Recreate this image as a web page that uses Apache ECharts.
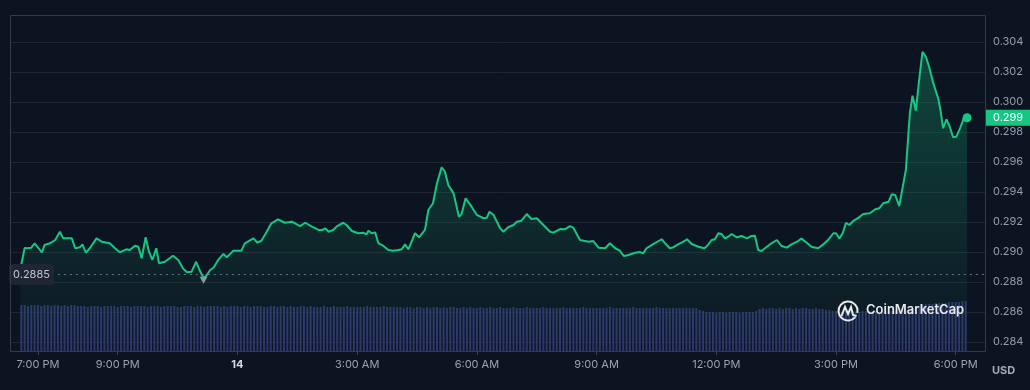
<!DOCTYPE html>
<html><head><meta charset="utf-8">
<script src="https://cdn.jsdelivr.net/npm/echarts@6/dist/echarts.min.js"></script>
<style>html,body{margin:0;padding:0;background:#0d1421;}#c{width:1030px;height:390px;}</style>
</head><body><div id="c"></div>
<script>
// Minutes since 18:00 on the 13th
const times = [
  34,40,44,50,55,66,70,78,86,93,
  98,111,116,123,127,132,138,148,156,168,
  176,183,193,198,206,211,216,222,227,232,
  238,242,251,263,271,278,284,291,298,303,
  309,314,319,324,331,339,344,354,366,371,
  384,390,396,404,411,421,431,442,454,462,
  472,482,488,492,497,504,510,519,524,532,
  542,549,554,557,562,567,572,579,587,594,
  602,607,612,617,627,633,642,647,654,660,
  667,672,677,685,693,697,703,712,720,730,
  735,739,745,755,760,767,775,780,787,795,
  802,810,820,830,835,845,852,860,865,875,
  888,895,903,913,920,928,935,941,948,958,
  965,970,975,985,998,1003,1010,1015,1023,1030,
  1036,1043,1053,1062,1066,1073,1078,1083,1088,1093,
  1098,1103,1111,1118,1126,1133,1138,1143,1148,1156,
  1163,1171,1178,1186,1193,1203,1208,1216,1223,1233,
  1241,1248,1256,1260,1265,1270,1275,1280,1286,1294,
  1301,1311,1319,1325,1331,1339,1344,1349,1355,1359,
  1365,1371,1375,1380,1385,1390,1395,1400,1406,1414,
  1417,1421,1426,1431,1436,1441,1447,1452,1457
];
const prices = [
  0.28893,0.29027,0.29025,0.29029,0.29058,0.28998,0.29047,0.29058,0.29080,0.29135,
  0.29091,0.29091,0.29025,0.29031,0.29051,0.28995,0.29025,0.29091,0.29069,0.29058,
  0.29025,0.28998,0.29018,0.29013,0.29042,0.29035,0.28958,0.29098,0.29002,0.28947,
  0.29025,0.28925,0.28935,0.28975,0.28947,0.28891,0.28865,0.28869,0.28935,0.28880,
  0.28825,0.28847,0.28880,0.28895,0.28947,0.28987,0.28965,0.29009,0.29009,0.29058,
  0.29091,0.29062,0.29075,0.29135,0.29191,0.29218,0.29195,0.29202,0.29173,0.29195,
  0.29169,0.29147,0.29147,0.29158,0.29135,0.29147,0.29173,0.29195,0.29180,0.29140,
  0.29125,0.29129,0.29118,0.29142,0.29125,0.29131,0.29058,0.29042,0.29013,0.29009,
  0.29013,0.29018,0.29051,0.29018,0.29125,0.29098,0.29147,0.29280,0.29325,0.29458,
  0.29565,0.29535,0.29447,0.29391,0.29235,0.29253,0.29358,0.29302,0.29247,0.29225,
  0.29229,0.29269,0.29247,0.29158,0.29135,0.29165,0.29180,0.29202,0.29209,0.29253,
  0.29220,0.29225,0.29180,0.29135,0.29129,0.29153,0.29151,0.29173,0.29162,0.29080,
  0.29069,0.29073,0.29029,0.29025,0.29058,0.29025,0.29009,0.28973,0.28980,0.28995,
  0.29000,0.28991,0.29025,0.29053,0.29085,0.29058,0.29025,0.29031,0.29053,0.29067,
  0.29085,0.29053,0.29035,0.29025,0.29040,0.29080,0.29085,0.29125,0.29120,0.29091,
  0.29102,0.29120,0.29098,0.29107,0.29091,0.29107,0.29109,0.29013,0.29007,0.29035,
  0.29058,0.29080,0.29040,0.29029,0.29051,0.29073,0.29089,0.29062,0.29035,0.29025,
  0.29051,0.29080,0.29125,0.29125,0.29091,0.29125,0.29195,0.29180,0.29207,0.29229,
  0.29253,0.29258,0.29285,0.29291,0.29325,0.29335,0.29385,0.29380,0.29307,0.29402,
  0.29547,0.29925,0.30042,0.29942,0.30147,0.30335,0.30302,0.30235,0.30129,0.30018,
  0.29947,0.29825,0.29885,0.29835,0.29765,0.29769,0.29831,0.29891,0.29895
];
// Volume bars: one every 5 minutes from 18:35 (relative units)
const volumeStart = 35;
const volumeStep = 5;
const volumes = [
  47,47,46,47,47,47,46,47,47,46,47,47,46,47,46,47,47,46,
  46,46,45,46,46,46,45,46,46,46,46,45,
  46,46,46,45,46,46,46,46,45,46,46,46,
  45,46,46,46,46,45,45,46,46,46,45,46,
  46,45,46,46,46,46,45,46,45,46,46,46,
  45,46,46,45,46,46,46,45,45,46,46,45,
  46,46,45,46,45,45,46,46,45,46,45,45,
  45,46,45,45,46,45,45,45,46,45,45,45,
  45,45,46,45,45,45,45,46,45,45,45,45,
  45,44,45,45,44,45,45,44,45,44,45,45,
  44,45,44,45,45,44,44,45,44,45,44,44,
  45,44,44,45,44,44,45,44,44,44,45,44,
  44,44,45,44,44,44,44,45,44,44,44,44,
  44,45,44,44,44,44,44,45,44,44,44,44,
  44,44,44,45,44,44,44,44,44,44,45,44,
  44,44,44,44,44,45,44,44,44,44,44,44,
  44,44,44,44,44,44,
  42,41,40,40,40,39,40,40,39,40,40,40,39,40,40,40,40,41,
  43,44,43,44,44,43,44,43,44,44,43,44,43,44,44,43,43,44,43,43,42,42,
  41,41,41,40,41,41,41,41,40,41,41,41,41,41,40,41,41,41,41,41,41,42,42,42,43,44,
  46,47,48,48,48,49,49,49,49,50,50,50,50,51,51
];
const tickMinutes = [60,180,360,540,720,900,1080,1260,1440];
const tickLabels = ['7:00 PM','9:00 PM','14','3:00 AM','6:00 AM','9:00 AM','12:00 PM','3:00 PM','6:00 PM'];
const openPrice = 0.2885;
const openLabel = '0.2885';
const lastLabel = '0.299';

const FONT = 'Inter, "Noto Sans", sans-serif';
const xMin = 18, xMax = 1484;
const GREEN = '#16c784';
const priceData = times.map((t, i) => [t, prices[i]]);
const volData = volumes.map((v, i) => [volumeStart + i * volumeStep, v]);
const last = priceData[priceData.length - 1];

const chart = echarts.init(document.getElementById('c'));
chart.setOption({
  backgroundColor: '#0d1421',
  animation: false,
  textStyle: { fontFamily: FONT },
  grid: [
    { left: 10, right: 45, top: 42, bottom: 48 },
    { left: 10, right: 45, top: 292, bottom: 38 }
  ],
  xAxis: [
    { type: 'value', gridIndex: 0, min: xMin, max: xMax, show: false },
    { type: 'value', gridIndex: 1, min: xMin, max: xMax,
      axisLine: { show: false }, splitLine: { show: false },
      axisTick: { show: true, customValues: tickMinutes, length: 3, lineStyle: { color: '#3e4452' } },
      axisLabel: {
        customValues: tickMinutes, margin: 7, color: '#9ba2b0', fontSize: 11, fontFamily: FONT,
        formatter: v => {
          const s = tickLabels[tickMinutes.indexOf(v)] || '';
          return /^\d+$/.test(s) ? '{b|' + s + '}' : s;
        },
        rich: { b: { fontWeight: 'bold', color: '#d5d9e1', fontSize: 11, fontFamily: FONT } }
      }
    }
  ],
  yAxis: [
    { type: 'value', gridIndex: 0, position: 'right', min: 0.284, max: 0.304, interval: 0.002,
      axisLine: { show: false }, axisTick: { show: false },
      splitLine: { lineStyle: { color: '#1f2533', width: 1 } },
      axisLabel: { margin: 8, color: '#959cab', fontSize: 11, fontFamily: FONT, formatter: v => v.toFixed(3) }
    },
    { type: 'value', gridIndex: 1, min: 0, max: 60, show: false }
  ],
  series: [
    { type: 'bar', xAxisIndex: 1, yAxisIndex: 1, data: volData, barWidth: 2,
      itemStyle: { color: '#2d366b' }, z: 1, silent: true },
    { type: 'line', xAxisIndex: 0, yAxisIndex: 0, data: priceData, showSymbol: false, z: 3,
      lineStyle: { color: GREEN, width: 2 },
      areaStyle: {
        color: new echarts.graphic.LinearGradient(0, 0, 0, 1, [
          { offset: 0, color: 'rgba(22,199,132,0.40)' },
          { offset: 1, color: 'rgba(22,199,132,0.02)' }
        ])
      },
      markLine: {
        silent: true, symbol: 'none', animation: false,
        data: [
          [
            { coord: last, lineStyle: { color: 'rgba(0,0,0,0)', width: 0 },
              label: { show: true, position: 'end', distance: 0, formatter: lastLabel,
                backgroundColor: GREEN, color: '#ffffff', padding: [3, 8, 2, 8],
                fontSize: 11, fontFamily: FONT } },
            { coord: [xMax, last[1]] }
          ]
        ]
      },
      markPoint: {
        silent: true, animation: false,
        data: [
          { type: 'min', symbol: 'triangle', symbolRotate: 180, symbolSize: [8, 7], symbolOffset: [0, 2],
            itemStyle: { color: '#8e94a2' }, label: { show: false } },
          { coord: last, symbol: 'circle', symbolSize: 9,
            itemStyle: { color: GREEN }, label: { show: false } }
        ]
      }
    },
    { type: 'line', name: 'open', xAxisIndex: 0, yAxisIndex: 0, data: [], z: 8, silent: true,
      markLine: {
        silent: true, symbol: 'none', animation: false,
        data: [
          [
            { coord: [90, openPrice],
              lineStyle: { color: '#6a7080', type: [2, 4], width: 1 },
              label: { show: true, position: 'start', distance: 4, formatter: openLabel,
                backgroundColor: '#1f2533', color: '#c2c7d1', padding: [5, 4, 5, 4],
                borderRadius: 4, fontSize: 11, fontFamily: FONT } },
            { coord: [xMax, openPrice] }
          ]
        ]
      }
    }
  ],
  graphic: [
    { type: 'rect', silent: true, z: 50,
      shape: { x: 10.5, y: 15.5, width: 975, height: 336 },
      style: { fill: 'none', stroke: '#343a47', lineWidth: 1 } },
    { type: 'text', silent: true, z: 50, x: 992, y: 365,
      style: { text: 'USD', fill: '#a3a9b6', font: 'bold 11px ' + FONT } },
    { type: 'group', silent: true, z: 60, x: 837, y: 299,
      children: [
        { type: 'arc', z: 60, shape: { cx: 11, cy: 12, r: 9.5, startAngle: 0.7, endAngle: Math.PI * 2 + 0.2 },
          style: { fill: 'none', stroke: '#e8eaef', lineWidth: 2 } },
        { type: 'polyline', z: 60, shape: { points: [[4.5, 17], [8, 8], [11, 15], [14, 8], [16, 16], [19.5, 17]] },
          style: { fill: 'none', stroke: '#e8eaef', lineWidth: 2 } },
        { type: 'text', z: 60, x: 29, y: 5,
          style: { text: 'CoinMarketCap', fill: '#e8eaef', font: '600 13px ' + FONT } }
      ]
    }
  ]
});
</script>
</body></html>
